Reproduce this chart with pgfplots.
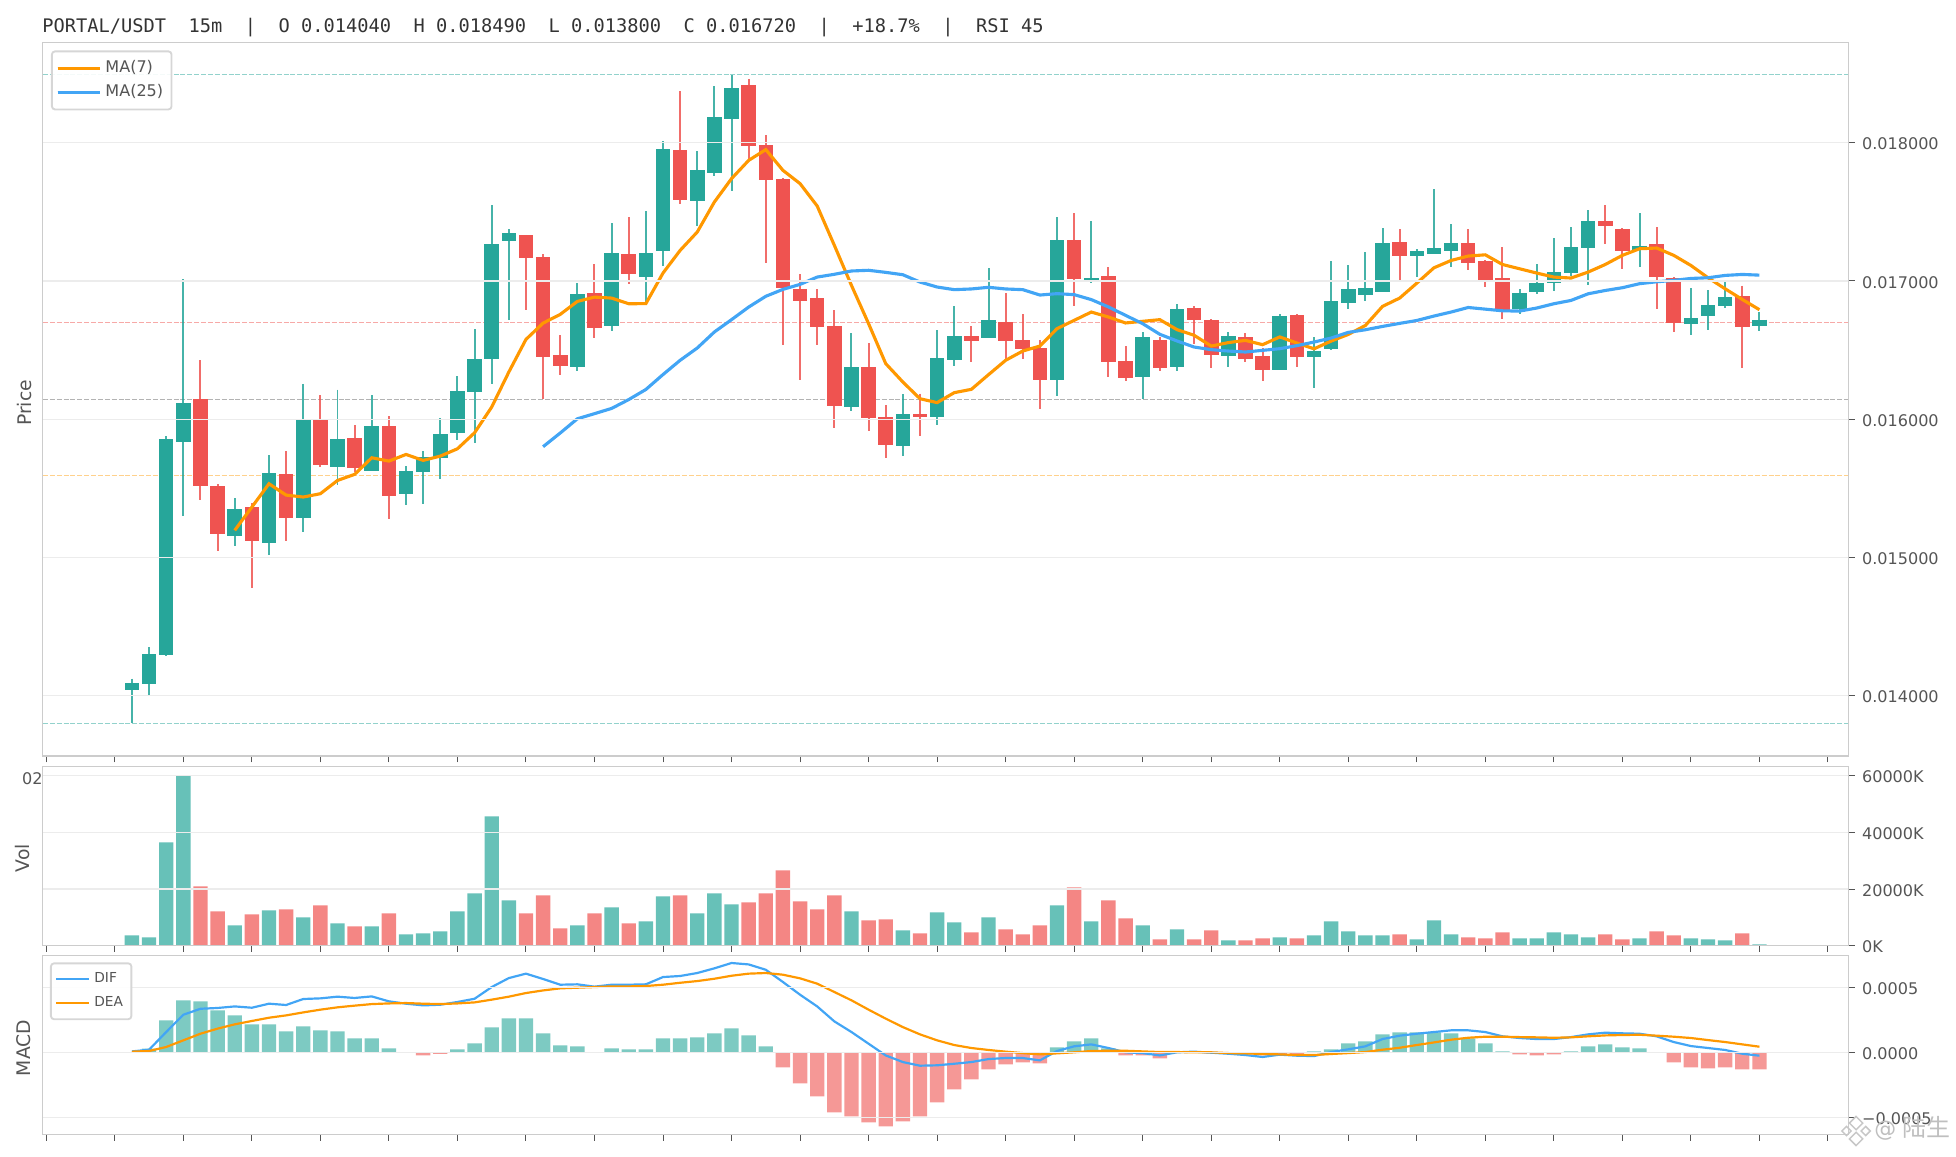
\documentclass[border=0pt]{standalone}
\usepackage{fontspec}
\usepackage{pgfplots}
\usepackage{pgfplotstable}
\pgfplotsset{compat=1.18}
\setmainfont{DejaVu Sans}
\newfontfamily\monof{DejaVu Sans Mono}
\newfontfamily\cjk{Noto Sans CJK SC}
\definecolor{up}{HTML}{26A69A}
\definecolor{dn}{HTML}{EF5350}
\definecolor{ma7}{HTML}{FF9800}
\definecolor{ma25}{HTML}{42A5F5}
\definecolor{framec}{HTML}{CCCCCC}
\definecolor{gridc}{HTML}{ECECEC}
\definecolor{txt}{HTML}{555555}

\pgfplotstableread{
i o h l c v
0 0.014040 0.014123 0.013800 0.014090 3650
1 0.014085 0.014349 0.014002 0.014299 2940
2 0.014292 0.015876 0.014284 0.015854 36470
3 0.015832 0.017011 0.015297 0.016114 60000
6 0.015152 0.015427 0.015080 0.015348 7170
8 0.015102 0.015738 0.015015 0.015608 12470
10 0.015283 0.016256 0.015181 0.015991 10000
12 0.015651 0.016213 0.015521 0.015854 7880
14 0.015622 0.016172 0.015622 0.015948 6820
16 0.015456 0.015659 0.015377 0.015622 4000
17 0.015615 0.015767 0.015384 0.015726 4350
18 0.015716 0.016006 0.015565 0.015890 5060
19 0.015897 0.016309 0.015847 0.016201 12110
20 0.016194 0.016649 0.015825 0.016432 18460
21 0.016432 0.017546 0.016252 0.017264 45630
22 0.017286 0.017373 0.016714 0.017344 15990
26 0.016374 0.016982 0.016345 0.016902 7170
28 0.016671 0.017416 0.016635 0.017199 13520
30 0.017025 0.017503 0.016847 0.017199 8580
31 0.017214 0.018010 0.017106 0.017952 17400
33 0.017576 0.017937 0.017395 0.017800 11410
34 0.017778 0.018408 0.017757 0.018183 18460
35 0.018169 0.018490 0.017648 0.018393 14580
42 0.016086 0.016621 0.016057 0.016375 12110
45 0.015804 0.016180 0.015735 0.016035 5410
47 0.016013 0.016643 0.015956 0.016440 11760
48 0.016426 0.016816 0.016382 0.016599 8230
50 0.016585 0.017091 0.016585 0.016715 10000
54 0.016281 0.017460 0.016165 0.017294 14230
56 0.017004 0.017431 0.016983 0.017019 8580
59 0.016303 0.016628 0.016144 0.016592 7170
61 0.016375 0.016831 0.016346 0.016795 5760
64 0.016455 0.016628 0.016375 0.016599 1880
67 0.016353 0.016758 0.016353 0.016744 2940
69 0.016447 0.016591 0.016223 0.016490 3650
70 0.016505 0.017141 0.016497 0.016852 8580
71 0.016837 0.017112 0.016794 0.016939 5060
72 0.016895 0.017206 0.016852 0.016946 3650
73 0.016917 0.017380 0.016917 0.017271 3650
75 0.017177 0.017228 0.017025 0.017213 2230
76 0.017192 0.017662 0.017192 0.017235 8940
77 0.017213 0.017409 0.017098 0.017271 4000
81 0.016794 0.016939 0.016758 0.016910 2590
82 0.016917 0.017119 0.016902 0.016982 2590
83 0.016982 0.017307 0.016924 0.017062 4700
84 0.017054 0.017387 0.017033 0.017242 4000
85 0.017235 0.017510 0.016968 0.017430 2940
88 0.017221 0.017488 0.017098 0.017250 2590
91 0.016685 0.016946 0.016606 0.016729 2590
92 0.016743 0.016931 0.016642 0.016823 2230
93 0.016816 0.016996 0.016801 0.016881 1880
95 0.016671 0.016772 0.016635 0.016720 470
}\upT

\pgfplotstableread{
i o h l c v
4 0.016143 0.016425 0.015413 0.015514 20930
5 0.015514 0.015528 0.015044 0.015167 12110
7 0.015362 0.015391 0.014776 0.015116 11050
9 0.015601 0.015767 0.015116 0.015283 12820
11 0.015991 0.016172 0.015651 0.015666 14230
13 0.015861 0.015955 0.015615 0.015644 6820
15 0.015948 0.016020 0.015275 0.015442 11410
23 0.017329 0.017334 0.016787 0.017163 11410
24 0.017170 0.017192 0.016143 0.016447 17760
25 0.016461 0.016606 0.016317 0.016382 6120
27 0.016910 0.017119 0.016584 0.016657 11410
29 0.017192 0.017459 0.016975 0.017047 7880
32 0.017945 0.018371 0.017554 0.017583 17760
36 0.018415 0.018458 0.017884 0.017974 15290
37 0.017981 0.018053 0.017127 0.017728 18460
38 0.017735 0.017742 0.016534 0.016947 26580
39 0.016939 0.017048 0.016281 0.016852 15640
40 0.016874 0.016939 0.016534 0.016664 12820
41 0.016672 0.016787 0.015934 0.016093 17760
43 0.016375 0.016549 0.015912 0.016006 8940
44 0.016013 0.016100 0.015717 0.015811 9290
46 0.016035 0.016185 0.015876 0.016013 4350
49 0.016599 0.016672 0.016411 0.016563 4700
51 0.016701 0.016910 0.016426 0.016563 5760
52 0.016570 0.016758 0.016433 0.016505 4000
53 0.016513 0.016570 0.016071 0.016281 7170
55 0.017294 0.017489 0.016816 0.017012 20580
57 0.017033 0.017098 0.016303 0.016411 15990
58 0.016418 0.016527 0.016274 0.016296 9640
60 0.016570 0.016594 0.016346 0.016368 2230
62 0.016802 0.016816 0.016541 0.016715 2230
63 0.016715 0.016722 0.016368 0.016462 5410
65 0.016592 0.016621 0.016411 0.016433 1880
66 0.016455 0.016513 0.016274 0.016353 2590
68 0.016751 0.016758 0.016375 0.016447 2590
74 0.017279 0.017373 0.016996 0.017177 4000
78 0.017271 0.017373 0.017076 0.017127 2940
79 0.017141 0.017148 0.016953 0.017004 2590
80 0.017018 0.017242 0.016722 0.016787 4700
86 0.017430 0.017546 0.017264 0.017394 4000
87 0.017373 0.017380 0.017083 0.017213 2230
89 0.017264 0.017387 0.016794 0.017025 5060
90 0.017018 0.017025 0.016628 0.016693 3650
94 0.016888 0.016967 0.016367 0.016664 4350
}\dnT

\pgfplotstableread{
i v
6 0.015196
7 0.015364
8 0.015533
9 0.015451
10 0.015437
11 0.015461
12 0.015557
13 0.015601
14 0.015721
15 0.015697
16 0.015745
17 0.015702
18 0.015733
19 0.015786
20 0.015902
21 0.016088
22 0.016341
23 0.016577
24 0.016695
25 0.016758
26 0.016852
27 0.016883
28 0.016876
29 0.016835
30 0.016836
31 0.017057
32 0.017221
33 0.017354
34 0.017571
35 0.017740
36 0.017872
37 0.017950
38 0.017800
39 0.017704
40 0.017542
41 0.017258
42 0.016968
43 0.016691
44 0.016402
45 0.016269
46 0.016148
47 0.016120
48 0.016192
49 0.016216
50 0.016322
51 0.016426
52 0.016493
53 0.016529
54 0.016655
55 0.016715
56 0.016775
57 0.016739
58 0.016696
59 0.016708
60 0.016720
61 0.016648
62 0.016607
63 0.016529
64 0.016554
65 0.016570
66 0.016539
67 0.016595
68 0.016551
69 0.016509
70 0.016565
71 0.016613
72 0.016678
73 0.016816
74 0.016876
75 0.016984
76 0.017095
77 0.017148
78 0.017180
79 0.017189
80 0.017119
81 0.017088
82 0.017057
83 0.017028
84 0.017021
85 0.017064
86 0.017119
87 0.017185
88 0.017233
89 0.017238
90 0.017185
91 0.017112
92 0.017023
93 0.016943
94 0.016866
95 0.016792
}\maA

\pgfplotstableread{
i v
24 0.015801
25 0.015900
26 0.016003
27 0.016040
28 0.016078
29 0.016142
30 0.016215
31 0.016323
32 0.016426
33 0.016515
34 0.016631
35 0.016720
36 0.016811
37 0.016889
38 0.016939
39 0.016975
40 0.017028
41 0.017048
42 0.017072
43 0.017077
44 0.017062
45 0.017045
46 0.016992
47 0.016956
48 0.016937
49 0.016942
50 0.016954
51 0.016942
52 0.016937
53 0.016898
54 0.016908
55 0.016901
56 0.016865
57 0.016812
58 0.016751
59 0.016691
60 0.016614
61 0.016566
62 0.016522
63 0.016503
64 0.016493
65 0.016486
66 0.016498
67 0.016510
68 0.016532
69 0.016558
70 0.016587
71 0.016628
72 0.016647
73 0.016671
74 0.016693
75 0.016714
76 0.016746
77 0.016775
78 0.016808
79 0.016796
80 0.016784
81 0.016782
82 0.016804
83 0.016835
84 0.016859
85 0.016907
86 0.016931
87 0.016951
88 0.016980
89 0.016994
90 0.017004
91 0.017018
92 0.017023
93 0.017040
94 0.017047
95 0.017042
}\maB

\pgfplotstableread{
i v
1 0.000031
2 0.000249
3 0.000403
4 0.000395
5 0.000326
6 0.000287
7 0.000218
8 0.000218
9 0.000164
10 0.000203
11 0.000172
12 0.000164
13 0.000110
14 0.000110
15 0.000033
16 0.000003
19 0.000026
20 0.000072
21 0.000195
22 0.000264
23 0.000264
24 0.000149
25 0.000056
26 0.000049
27 0.000002
28 0.000033
29 0.000026
30 0.000026
31 0.000110
32 0.000110
33 0.000118
34 0.000149
35 0.000187
36 0.000133
37 0.000049
54 0.000041
55 0.000087
56 0.000110
57 0.000033
61 0.000010
62 0.000010
69 0.000010
70 0.000026
71 0.000072
72 0.000087
73 0.000141
74 0.000156
75 0.000156
76 0.000156
77 0.000149
78 0.000110
79 0.000072
80 0.000010
84 0.000010
85 0.000049
86 0.000064
87 0.000041
88 0.000033
}\histU

\pgfplotstableread{
i v
17 -0.000021
18 -0.000010
38 -0.000113
39 -0.000236
40 -0.000336
41 -0.000459
42 -0.000490
43 -0.000536
44 -0.000567
45 -0.000528
46 -0.000490
47 -0.000382
48 -0.000282
49 -0.000205
50 -0.000128
51 -0.000090
52 -0.000074
53 -0.000082
58 -0.000021
59 -0.000021
60 -0.000044
63 -0.000005
64 -0.000008
65 -0.000013
66 -0.000020
67 -0.000010
68 -0.000010
81 -0.000013
82 -0.000021
83 -0.000013
90 -0.000074
91 -0.000113
92 -0.000121
93 -0.000113
94 -0.000128
95 -0.000128
}\histD

\pgfplotstableread{
i dif dea
0 0.000010 0.000008
1 0.000023 0.000013
2 0.000159 0.000044
3 0.000292 0.000095
4 0.000338 0.000146
5 0.000344 0.000185
6 0.000356 0.000218
7 0.000346 0.000244
8 0.000377 0.000269
9 0.000367 0.000287
10 0.000413 0.000310
11 0.000418 0.000331
12 0.000431 0.000349
13 0.000421 0.000362
14 0.000433 0.000374
15 0.000395 0.000379
16 0.000377 0.000382
17 0.000364 0.000377
18 0.000369 0.000374
19 0.000390 0.000379
20 0.000415 0.000387
21 0.000505 0.000408
22 0.000574 0.000431
23 0.000608 0.000459
24 0.000567 0.000479
25 0.000523 0.000495
26 0.000526 0.000500
27 0.000508 0.000505
28 0.000523 0.000510
29 0.000523 0.000510
30 0.000526 0.000513
31 0.000582 0.000523
32 0.000590 0.000538
33 0.000613 0.000551
34 0.000649 0.000569
35 0.000690 0.000592
36 0.000679 0.000608
37 0.000638 0.000613
38 0.000544 0.000600
39 0.000446 0.000572
40 0.000356 0.000531
41 0.000241 0.000467
42 0.000159 0.000403
43 0.000069 0.000331
44 -0.000021 0.000262
45 -0.000072 0.000197
46 -0.000100 0.000141
47 -0.000097 0.000095
48 -0.000085 0.000059
49 -0.000072 0.000036
50 -0.000049 0.000021
51 -0.000041 0.000008
52 -0.000041 -0.000003
53 -0.000059 -0.000013
54 0.000013 -0.000005
55 0.000049 0.000003
56 0.000064 0.000013
57 0.000036 0.000015
58 0.000003 0.000015
59 -0.000003 0.000010
60 -0.000021 0.000005
61 0.000003 0.000005
62 0.000008 0.000003
63 0.000000 0.000003
64 -0.000008 -0.000003
65 -0.000018 -0.000005
66 -0.000033 -0.000010
67 -0.000015 -0.000013
68 -0.000023 -0.000018
69 -0.000026 -0.000018
70 0.000005 -0.000010
71 0.000026 -0.000003
72 0.000049 0.000005
73 0.000105 0.000023
74 0.000131 0.000038
75 0.000146 0.000059
76 0.000159 0.000079
77 0.000172 0.000100
78 0.000172 0.000115
79 0.000159 0.000123
80 0.000126 0.000123
81 0.000113 0.000120
82 0.000105 0.000118
83 0.000105 0.000115
84 0.000120 0.000118
85 0.000141 0.000126
86 0.000154 0.000133
87 0.000149 0.000136
88 0.000146 0.000138
89 0.000126 0.000131
90 0.000082 0.000123
91 0.000051 0.000113
92 0.000036 0.000097
93 0.000021 0.000082
94 -0.000008 0.000064
95 -0.000023 0.000046
}\macdT

\pgfplotsset{
  panel/.style={
    scale only axis, width=866.88pt,
    xmin=-5.22, xmax=100.2,
    xtick={-5,-1,3,7,11,15,19,23,27,31,35,39,43,47,51,55,59,63,67,71,75,79,83,87,91,95,99},
    xticklabels={}, xtick pos=bottom, ytick pos=right, yticklabel pos=right,
    scaled y ticks=false, scaled x ticks=false,
    tick align=outside, major tick length=3pt,
    tick style={color=txt, line width=0.45pt},
    axis line style={draw=framec, line width=0.7pt},
    ymajorgrids, major grid style={draw=gridc, line width=0.55pt},
    axis on top,
    tick label style={font=\fontsize{7.7}{9}\selectfont, text=txt},
    yticklabel style={yshift=-0.6pt},
    ylabel style={font=\fontsize{9}{11}\selectfont, text=txt, anchor=center},
    legend cell align=left,
    clip=true,
  },
  mylegend/.style={
    legend style={draw=black!16, line width=0.9pt, rounded corners=1.5pt, fill=white, fill opacity=0.9, text opacity=1,
      text=txt, inner xsep=2pt, inner ysep=2.5pt, anchor=north west},
  },
}

\begin{document}
\begin{tikzpicture}
\path[use as bounding box] (0,0) rectangle (938.88pt,554.88pt);

\node[anchor=mid west, inner sep=0pt, text=black!80, font=\monof\fontsize{8.97}{11}\selectfont]
  at (20.16pt,542pt) {PORTAL/USDT\ \ 15m\ \ |\ \ O 0.014040\ \ H 0.018490\ \ L 0.013800\ \ C 0.016720\ \ |\ \ +18.7\%\ \ |\ \ RSI 45};

% ---------- price
\begin{axis}[panel, at={(20.4pt,191.94pt)}, anchor=south west, height=342.43pt,
  ymin=0.013563, ymax=0.018723,
  ytick={0.014,0.015,0.016,0.017,0.018},
  yticklabels={0.014000,0.015000,0.016000,0.017000,0.018000},
  ylabel={Price},
  every axis y label/.append style={at={(axis description cs:-0.0097,0.495)}},
  mylegend,
  legend style={at={(axis description cs:0.0047,0.9892)}, font=\fontsize{7.7}{12.5}\selectfont, row sep=0.2pt},
  legend image code/.code={\path (0pt,0pt) -- (20.2pt,0pt); \draw[#1] (0pt,0pt) -- (17.8pt,0pt);},
]
\addplot[forget plot, up, opacity=0.5, line width=0.5pt, dash pattern=on 2.4pt off 0.9pt] coordinates {(-6,0.018490) (101,0.018490)};
\addplot[forget plot, dn, opacity=0.5, line width=0.5pt, dash pattern=on 2.4pt off 0.9pt] coordinates {(-6,0.016698) (101,0.016698)};
\addplot[forget plot, gray, opacity=0.6, line width=0.5pt, dash pattern=on 2.4pt off 0.9pt] coordinates {(-6,0.016145) (101,0.016145)};
\addplot[forget plot, ma7, opacity=0.45, line width=0.5pt, dash pattern=on 2.4pt off 0.9pt] coordinates {(-6,0.015591) (101,0.015591)};
\addplot[forget plot, up, opacity=0.5, line width=0.5pt, dash pattern=on 2.4pt off 0.9pt] coordinates {(-6,0.013800) (101,0.013800)};
% wicks
\addplot[forget plot, draw=none, mark=none, error bars/.cd, y dir=minus, y explicit, error mark=none,
  error bar style={draw=up, opacity=0.85, line width=0.95pt}]
  table[x=i, y=h, y error minus expr=\thisrow{h}-\thisrow{l}] {\upT};
\addplot[forget plot, draw=none, mark=none, error bars/.cd, y dir=minus, y explicit, error mark=none,
  error bar style={draw=dn, opacity=0.85, line width=0.95pt}]
  table[x=i, y=h, y error minus expr=\thisrow{h}-\thisrow{l}] {\dnT};
% bodies
\addplot[forget plot, draw=none, mark=none, error bars/.cd, y dir=minus, y explicit, error mark=none,
  error bar style={draw=up, line width=7pt}]
  table[x=i, y=c, y error minus expr=\thisrow{c}-\thisrow{o}] {\upT};
\addplot[forget plot, draw=none, mark=none, error bars/.cd, y dir=minus, y explicit, error mark=none,
  error bar style={draw=dn, line width=7pt}]
  table[x=i, y=o, y error minus expr=\thisrow{o}-\thisrow{c}] {\dnT};
\addplot[ma7, line width=1.5pt] table[x=i, y=v] {\maA};
\addlegendentry{MA(7)}
\addplot[ma25, line width=1.5pt] table[x=i, y=v] {\maB};
\addlegendentry{MA(25)}
\end{axis}

% ---------- volume
\begin{axis}[panel, at={(20.4pt,100.94pt)}, anchor=south west, height=85.92pt,
  ymin=0, ymax=63176,
  ytick={0,20000,40000,60000},
  yticklabels={0K,20000K,40000K,60000K},
  ylabel={Vol},
  every axis y label/.append style={at={(axis description cs:-0.011,0.49)}},
]
\addplot[ybar, bar width=6.9pt, bar shift=0pt, draw=none, fill=up, fill opacity=0.7, forget plot] table[x=i, y=v] {\upT};
\addplot[ybar, bar width=6.9pt, bar shift=0pt, draw=none, fill=dn, fill opacity=0.7, forget plot] table[x=i, y=v] {\dnT};
\end{axis}

% ---------- MACD
\begin{axis}[panel, at={(20.4pt,10.216pt)}, anchor=south west, height=85.92pt,
  ymin=-0.000631, ymax=0.000746,
  ytick={-0.0005,0,0.0005},
  yticklabels={−0.0005,0.0000,0.0005},
  ylabel={MACD},
  every axis y label/.append style={at={(axis description cs:-0.0102,0.485)}},
  mylegend,
  legend style={at={(axis description cs:0.00415,0.9626)}, font=\fontsize{6.6}{10}\selectfont, row sep=1.2pt},
  legend image code/.code={\draw[#1] (0pt,0pt) -- (15.8pt,0pt);},
]
\addplot[ybar, bar width=6.9pt, bar shift=0pt, draw=none, fill=up, fill opacity=0.6, forget plot] table[x=i, y=v] {\histU};
\addplot[ybar, bar width=6.9pt, bar shift=0pt, draw=none, fill=dn, fill opacity=0.6, forget plot] table[x=i, y=v] {\histD};
\addplot[forget plot, black!42, line width=0.7pt] coordinates {(-6,0) (101,0)};
\addplot[ma25, line width=1.05pt] table[x=i, y=dif] {\macdT};
\addlegendentry{DIF}
\addplot[ma7, line width=1.05pt] table[x=i, y=dea] {\macdT};
\addlegendentry{DEA}
\end{axis}

% clipped leftover text beside the volume panel
\node[anchor=center, inner sep=0pt, text=txt, font=\fontsize{7.7}{9}\selectfont] at (15.5pt,181pt) {02};

% watermark
\begin{scope}[shift={(890.9pt,12pt)}, black!22, line width=0.7pt]
  \draw (0,7pt) -- (3.2pt,3.8pt) -- (0,0.6pt) -- (-3.2pt,3.8pt) -- cycle;
  \draw (0,-7pt) -- (3.2pt,-3.8pt) -- (0,-0.6pt) -- (-3.2pt,-3.8pt) -- cycle;
  \draw (-6.8pt,0) -- (-4.6pt,2.2pt) -- (-2.4pt,0) -- (-4.6pt,-2.2pt) -- cycle;
  \draw (6.8pt,0) -- (4.6pt,2.2pt) -- (2.4pt,0) -- (4.6pt,-2.2pt) -- cycle;
\end{scope}
\node[anchor=mid west, inner sep=0pt, text=black!25, font=\fontsize{10.5}{12}\selectfont] at (899.5pt,12pt) {@};
\node[anchor=mid west, inner sep=0pt, text=black!25, font=\cjk\fontsize{11.5}{13}\selectfont] at (913pt,12pt) {陆生};
\end{tikzpicture}
\end{document}
